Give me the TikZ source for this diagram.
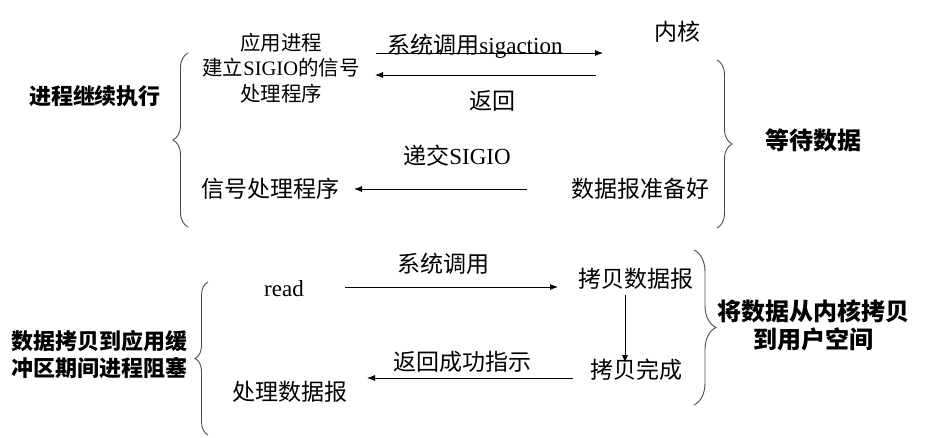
\documentclass[tikz,border=0pt]{standalone}
\usepackage{fontspec}
\setmainfont{Liberation Serif}
\newfontfamily\cjk{Noto Sans CJK SC}
\usetikzlibrary{arrows.meta,decorations.pathreplacing}
\begin{document}
\begin{tikzpicture}[x=1pt,y=-1pt,
 txt/.style={inner sep=0pt, font=\fontsize{23}{27}\selectfont\cjk},
 small/.style={inner sep=0pt, font=\fontsize{20.5}{25.5}\selectfont\cjk, align=center},
 bold/.style={inner sep=0pt, font=\fontsize{22}{27}\selectfont\cjk\bfseries, align=center},
 boldr/.style={inner sep=0pt, font=\fontsize{24}{28}\selectfont\cjk\bfseries, align=center},
 arr/.style={line width=0.8pt, -{Latex[length=8pt,width=6pt]}},
 brc/.style={decorate, decoration={brace, amplitude=#1}, draw=black!70, line width=0.9pt},
]
\useasboundingbox (0,0) rectangle (927,437);

% top part
\node[small] (app) at (281,68) {应用进程\\建立{\rmfamily SIGIO}的信号\\处理程序};
\node[txt] (kern) at (677,32) {内核};
\node[txt] (lbl1) at (475,46) {系统调用{\rmfamily sigaction}};
\node[txt] (ret) at (492,101) {返回};
\node[txt] (deliv) at (457,156) {递交{\rmfamily SIGIO}};
\node[txt] (sigh) at (270,189) {信号处理程序};
\node[txt] (ready) at (640,189) {数据报准备好};
\node[bold] (cont) at (95,96) {进程继续执行};
\node[boldr] (wait) at (813,140) {等待数据};

\coordinate (a1s) at (376,53); \coordinate (a1e) at (603,53);
\coordinate (a2s) at (596,75); \coordinate (a2e) at (375,75);
\coordinate (a3s) at (527,189); \coordinate (a3e) at (354,189);
\draw[arr] (a1s) -- (a1e);
\draw[arr] (a2s) -- (a2e);
\draw[arr] (a3s) -- (a3e);

\draw[brc=15] (188,227) -- (188,53);
\draw[brc=15] (717,60) -- (717,228);

% bottom part
\node[inner sep=0pt, font=\fontsize{23}{27}\selectfont\rmfamily] (read) at (284,289) {read};
\node[txt] (sys) at (443,264) {系统调用};
\node[txt] (copy) at (636,279) {拷贝数据报};
\node[txt] (done) at (636,370) {拷贝完成};
\node[txt] (succ) at (462,362) {返回成功指示};
\node[txt] (proc) at (290,392) {处理数据报};
\node[bold] (block) at (100,355) {数据拷贝到应用缓\\冲区期间进程阻塞};
\node[boldr] (kcopy) at (813,325) {将数据从内核拷贝\\到用户空间};

\coordinate (a4s) at (345,287); \coordinate (a4e) at (558,287);
\coordinate (a5s) at (625,295); \coordinate (a5e) at (625,363);
\coordinate (a6s) at (573,378); \coordinate (a6e) at (367,378);
\draw[arr] (a4s) -- (a4e);
\draw[arr] (a5s) -- (a5e);
\draw[arr] (a6s) -- (a6e);

\draw[brc=13] (208,435) -- (208,282);
\draw[brc=22] (694,250) -- (694,405);
\end{tikzpicture}
\end{document}
